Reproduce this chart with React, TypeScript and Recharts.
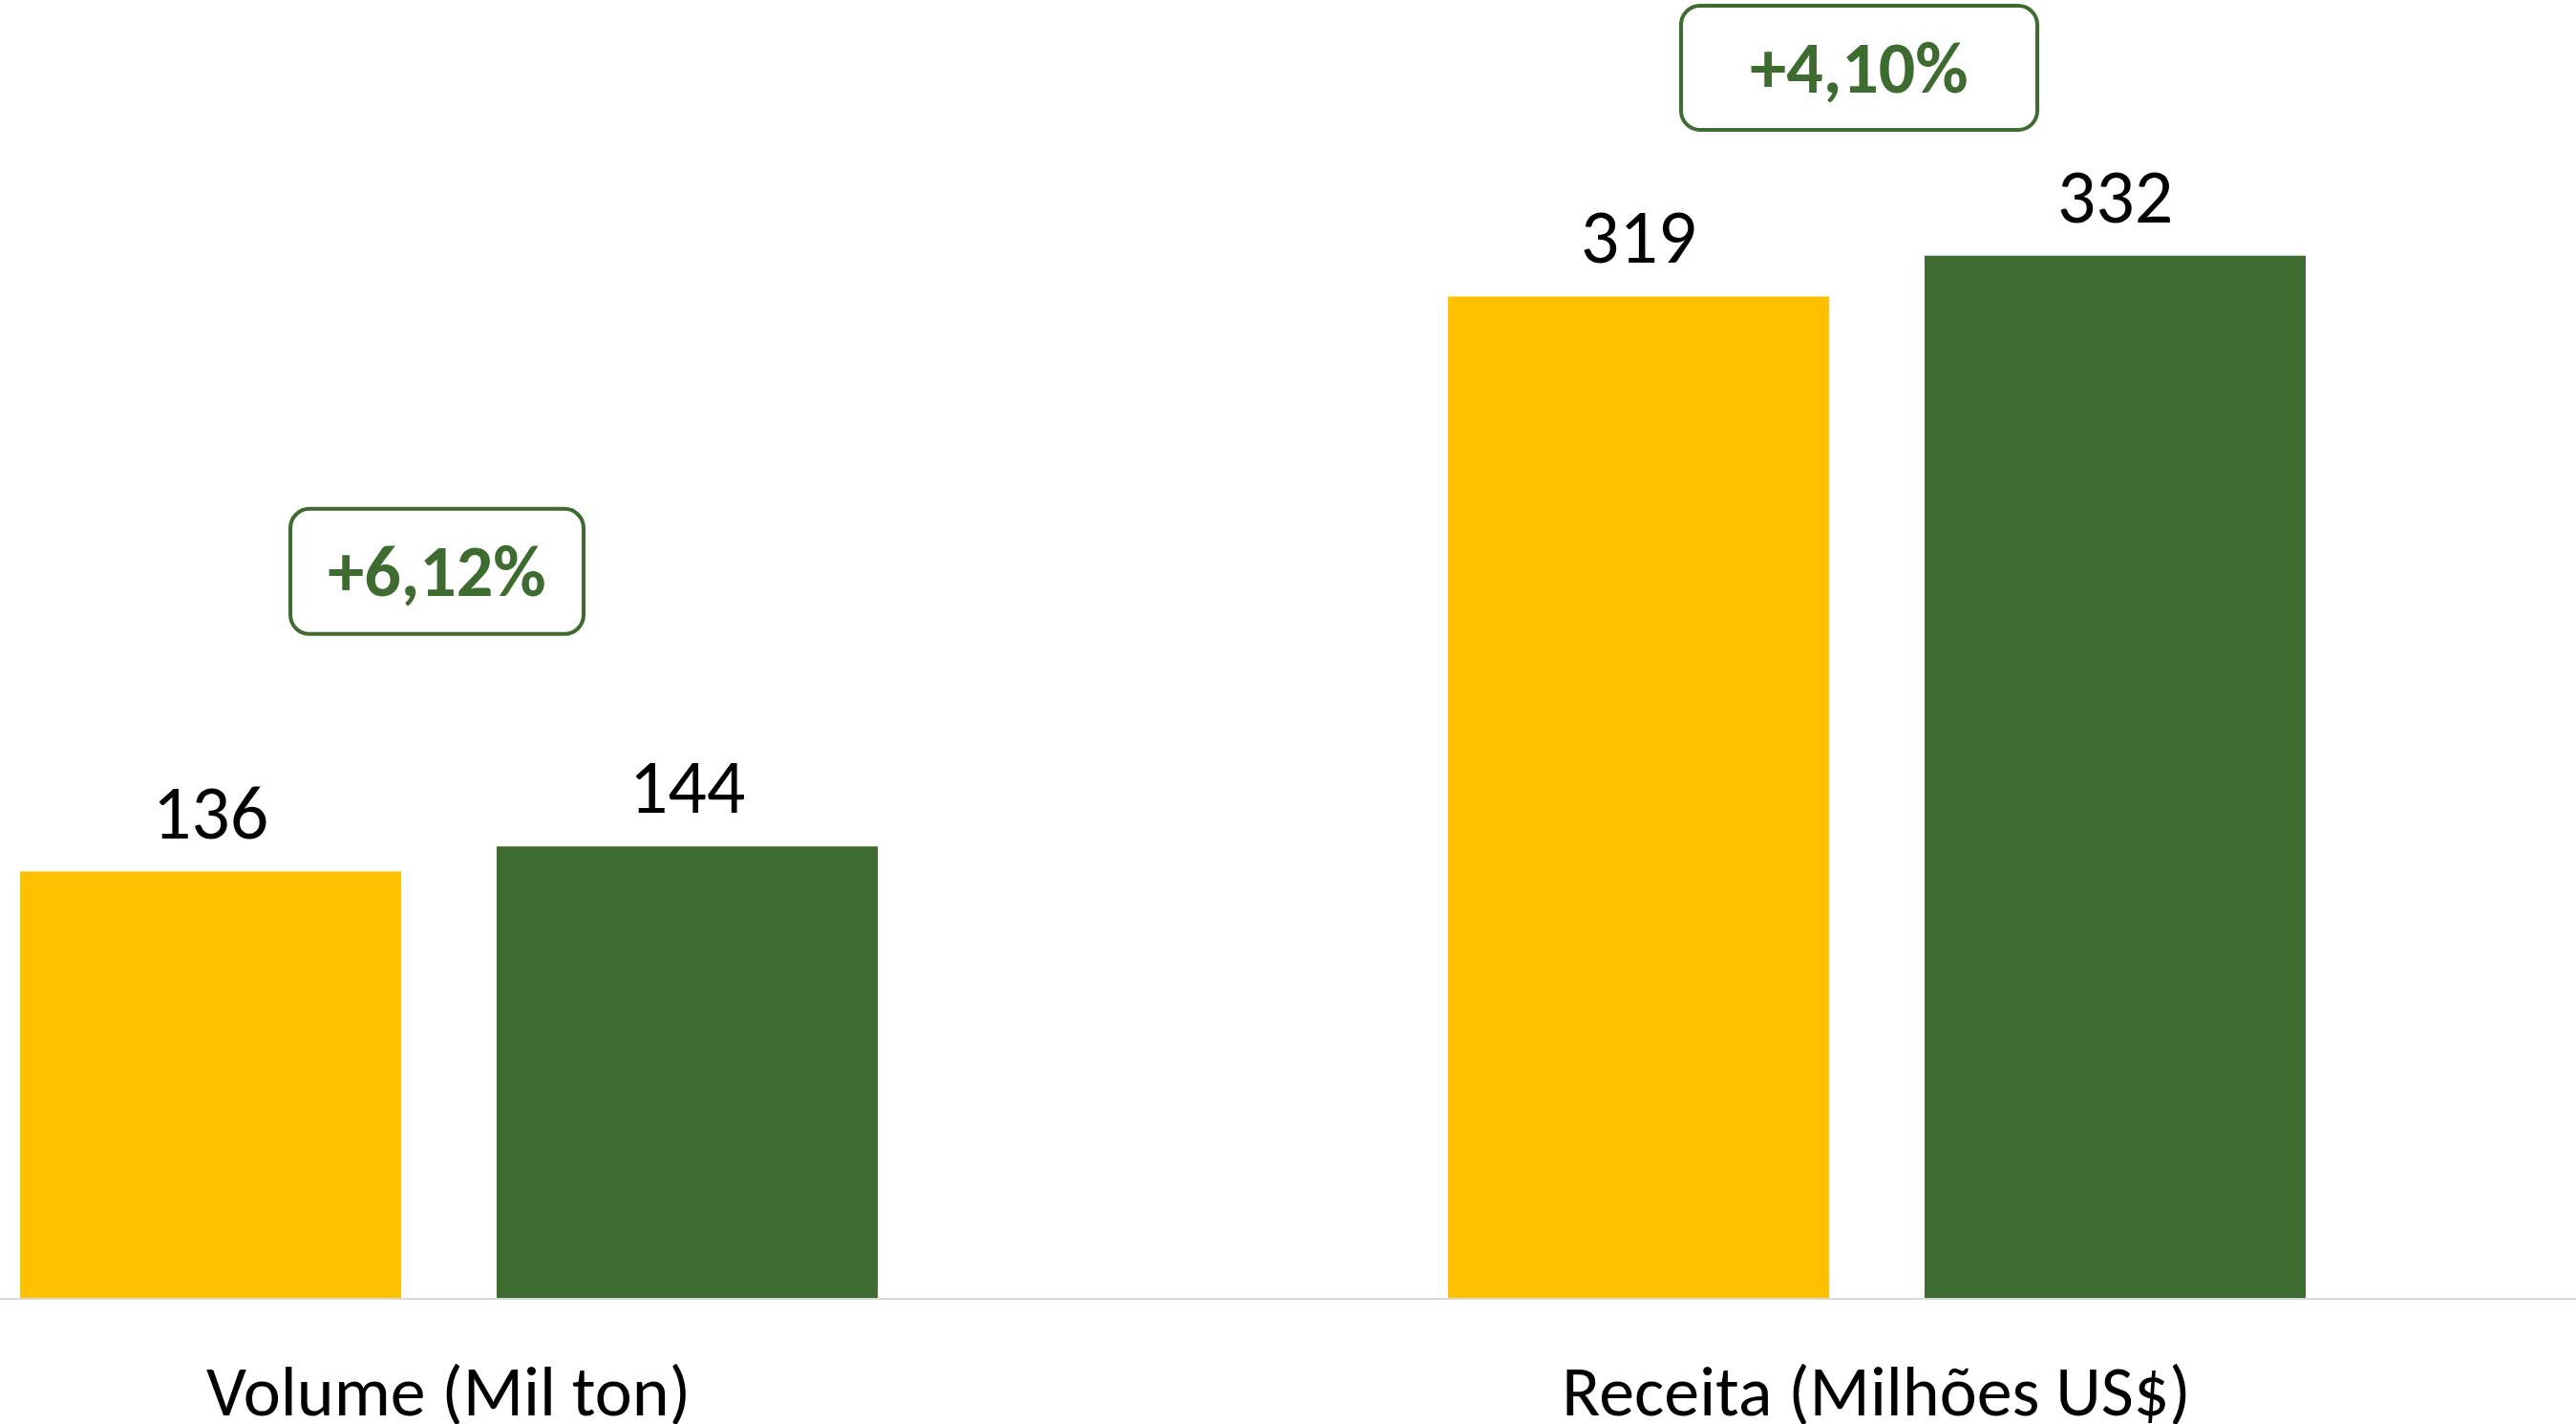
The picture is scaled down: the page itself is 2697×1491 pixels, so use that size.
import React from "react";
import { BarChart, Bar, XAxis, YAxis, LabelList, ReferenceDot } from "recharts";

const categories = ["Volume (Mil ton)", "Receita (Milhões US$)"];
const previousValues = [136, 319];
const currentValues = [144, 332];
const changeLabels = ["+6,12%", "+4,10%"];
const changeLabelLevels = [231.5, 391.8];

const data = categories.map((name, i) => ({
  name,
  previous: previousValues[i],
  current: currentValues[i],
}));

const FONT = "Carlito, 'Liberation Sans Narrow', 'Open Sans', sans-serif";
const YELLOW = "#FFC000";
const GREEN = "#3E6B2F";

const boxStyles = [
  { width: 307, height: 131, dx: -12 },
  { width: 373, height: 130, dx: -18 },
];

const ValueLabel = (props: any) => {
  const { x, y, width, value } = props;
  return (
    <text
      x={x + width / 2}
      y={y - 35}
      textAnchor="middle"
      fontFamily={FONT}
      fontSize={80}
      fill="#000000"
    >
      {value}
    </text>
  );
};

const CategoryTick = (props: any) => {
  const { x, y, payload } = props;
  return (
    <text
      x={x}
      y={y + 120}
      textAnchor="middle"
      fontFamily={FONT}
      fontSize={74}
      fill="#000000"
    >
      {payload.value}
    </text>
  );
};

const makeBadge = (i: number) => (props: any) => {
  const { cx, cy } = props;
  const s = boxStyles[i];
  const cxx = cx + s.dx;
  return (
    <g>
      <rect
        x={cxx - s.width / 2}
        y={cy - s.height / 2}
        width={s.width}
        height={s.height}
        rx={20}
        ry={20}
        fill="#FFFFFF"
        stroke={GREEN}
        strokeWidth={4}
      />
      <text
        x={cxx}
        y={cy + 26}
        textAnchor="middle"
        fontFamily={FONT}
        fontWeight="bold"
        fontSize={76}
        fill={GREEN}
      >
        {changeLabels[i]}
      </text>
    </g>
  );
};

export default function App() {
  return (
    <div
      style={{
        position: "fixed",
        left: 0,
        top: 0,
        width: 2697,
        height: 1491,
        overflow: "hidden",
        background: "#FFFFFF",
      }}
    >
      <div style={{ position: "absolute", left: -278, top: 0 }}>
        <BarChart
          width={2990}
          height={1491}
          data={data}
          margin={{ top: 44, right: 0, bottom: 0, left: 0 }}
          barSize={399}
          barGap={100}
        >
          <XAxis
            dataKey="name"
            height={131}
            axisLine={{ stroke: "#D9D9D9", strokeWidth: 2 }}
            tickLine={false}
            tickSize={0}
            tick={<CategoryTick />}
            interval={0}
          />
          <YAxis hide domain={[0, 400]} />
          <Bar dataKey="previous" fill={YELLOW} isAnimationActive={false}>
            <LabelList dataKey="previous" content={<ValueLabel />} />
          </Bar>
          <Bar dataKey="current" fill={GREEN} isAnimationActive={false}>
            <LabelList dataKey="current" content={<ValueLabel />} />
          </Bar>
          {categories.map((c, i) => (
            <ReferenceDot
              key={c}
              x={c}
              y={changeLabelLevels[i]}
              ifOverflow="visible"
              shape={makeBadge(i)}
            />
          ))}
        </BarChart>
      </div>
    </div>
  );
}
